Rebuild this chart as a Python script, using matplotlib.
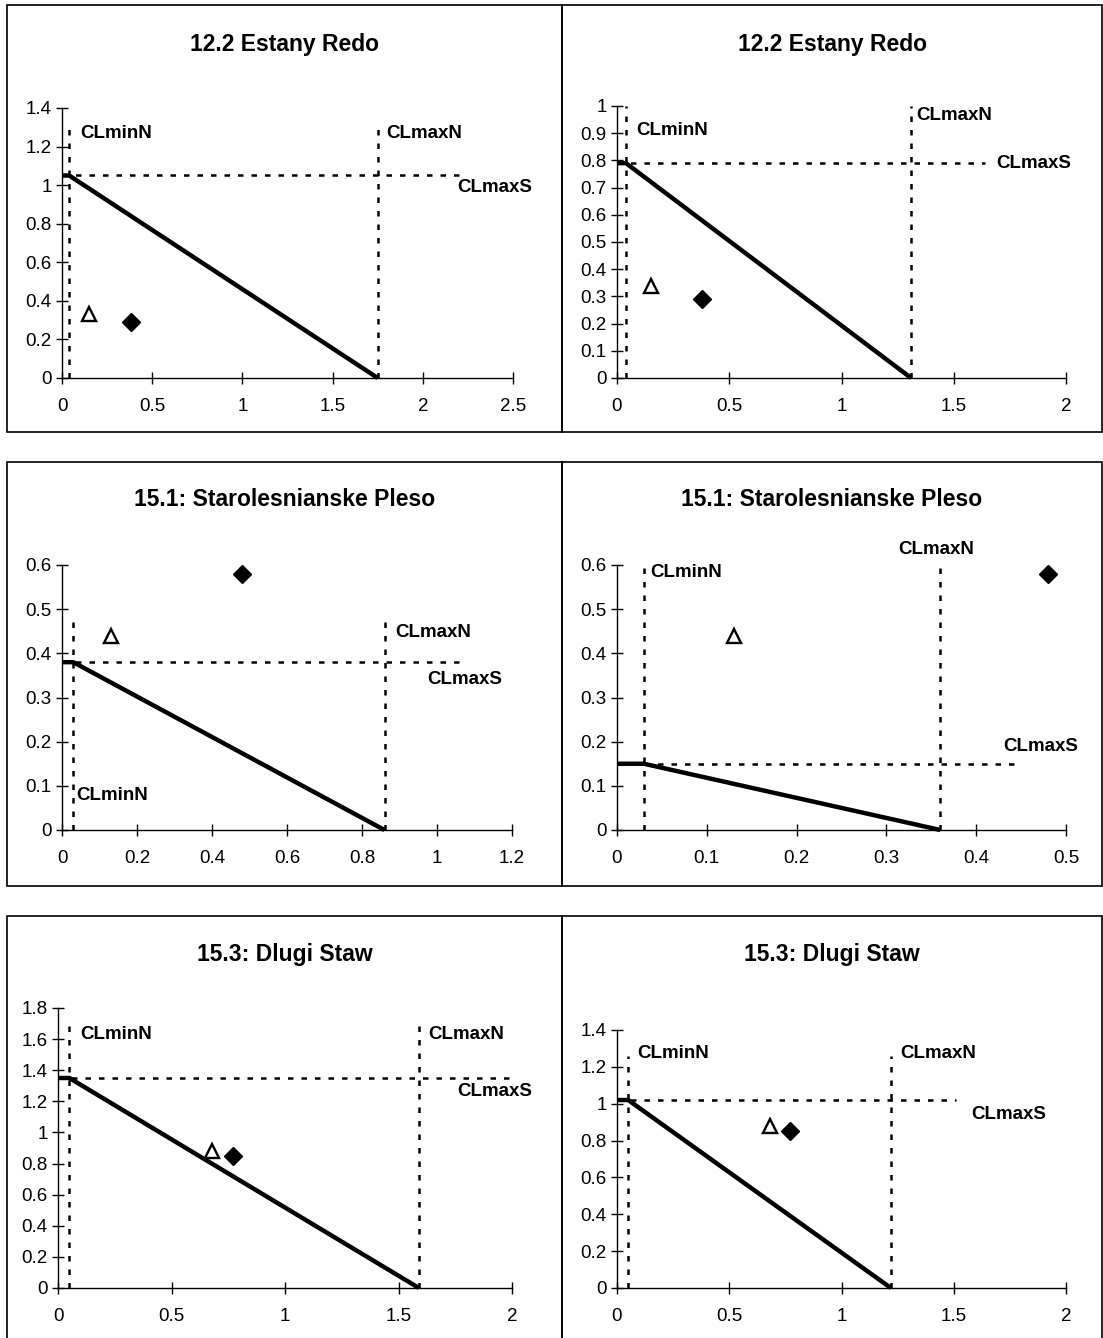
import matplotlib
matplotlib.use("Agg")
import matplotlib.pyplot as plt
from matplotlib.patches import Rectangle
from matplotlib.ticker import FormatStrFormatter, MultipleLocator

plt.rcParams["font.family"] = ["Liberation Sans", "DejaVu Sans"]

# data (left column / right column)
titles = ["12.2 Estany Redo", "12.2 Estany Redo",
          "15.1: Starolesnianske Pleso", "15.1: Starolesnianske Pleso",
          "15.3: Dlugi Staw", "15.3: Dlugi Staw"]
clmin_n = [0.04, 0.04, 0.03, 0.03, 0.05, 0.05]
clmax_n = [1.75, 1.31, 0.86, 0.36, 1.59, 1.22]
clmax_s = [1.05, 0.79, 0.38, 0.15, 1.35, 1.02]
tri_x = [0.15, 0.15, 0.13, 0.13, 0.68, 0.68]
tri_y = [0.33, 0.34, 0.44, 0.44, 0.88, 0.88]
dia_x = [0.38, 0.38, 0.48, 0.48, 0.77, 0.77]
dia_y = [0.29, 0.29, 0.58, 0.58, 0.85, 0.85]
hline_end = [2.2, 1.64, 1.06, 0.45, 2.0, 1.51]
vline_top = [1.32, 1.0, 0.48, 0.6, 1.7, 1.26]
x_max = [2.5, 2.0, 1.2, 0.5, 2.0, 2.0]
x_step = [0.5, 0.5, 0.2, 0.1, 0.5, 0.5]
y_max = [1.4, 1.0, 0.6, 0.6, 1.8, 1.4]
y_step = [0.2, 0.1, 0.1, 0.1, 0.2, 0.2]

W, H = 1103, 1338

# layout (pixels): axes box left, right, top, bottom
axes_px = [(62, 513, 108, 378), (617, 1066, 106, 378),
           (62, 512, 565, 830), (617, 1066, 565, 830),
           (58, 512, 1008, 1288), (617, 1066, 1030, 1288)]
boxes_px = [(7, 562, 5, 432), (562, 1102, 5, 432),
            (7, 562, 462, 886), (562, 1102, 462, 886),
            (7, 562, 916, 1350), (562, 1102, 916, 1350)]
title_y = [45, 45, 500, 500, 955, 955]
# label positions in data coords: (CLminN, CLmaxN, CLmaxS)
label_pos = [
    [(0.1, 1.27), (1.80, 1.27), (2.19, 0.99)],
    [(0.085, 0.91), (1.335, 0.965), (1.69, 0.79)],
    [(0.039, 0.077), (0.888, 0.448), (0.975, 0.341)],
    [(0.037, 0.584), (0.313, 0.634), (0.43, 0.19)],
    [(0.10, 1.63), (1.63, 1.63), (1.76, 1.26)],
    [(0.092, 1.27), (1.26, 1.27), (1.58, 0.94)],
]

fig = plt.figure(figsize=(W / 100, H / 100), dpi=100)

for i in range(6):
    bl, br, bt, bb = boxes_px[i]
    fig.add_artist(Rectangle((bl / W, 1 - bb / H), (br - bl) / W, (bb - bt) / H,
                             transform=fig.transFigure, fill=False,
                             edgecolor="black", linewidth=1.2))
    fig.text((bl + br) / 2 / W, 1 - title_y[i] / H, titles[i],
             ha="center", va="center", fontsize=16.5, fontweight="bold")

    l, r, t, b = axes_px[i]
    ax = fig.add_axes([l / W, 1 - b / H, (r - l) / W, (b - t) / H])
    ax.set_xlim(0, x_max[i])
    ax.set_ylim(0, y_max[i])
    ax.xaxis.set_major_locator(MultipleLocator(x_step[i]))
    ax.yaxis.set_major_locator(MultipleLocator(y_step[i]))
    ax.xaxis.set_major_formatter(FormatStrFormatter("%g"))
    ax.yaxis.set_major_formatter(FormatStrFormatter("%g"))
    for s in ["top", "right"]:
        ax.spines[s].set_visible(False)
    for s in ["left", "bottom"]:
        ax.spines[s].set_linewidth(1.0)
    ax.tick_params(direction="inout", length=9, width=1.0, labelsize=13.5)
    ax.tick_params(axis="x", pad=10)
    ax.tick_params(axis="y", pad=3)

    dots = (0, (2.2, 3.2))
    ax.plot([0, hline_end[i]], [clmax_s[i], clmax_s[i]], color="black",
            linestyle=dots, linewidth=1.8, clip_on=False)
    ax.plot([clmin_n[i], clmin_n[i]], [0, vline_top[i]], color="black",
            linestyle=dots, linewidth=1.8, clip_on=False)
    ax.plot([clmax_n[i], clmax_n[i]], [0, vline_top[i]], color="black",
            linestyle=dots, linewidth=1.8, clip_on=False)

    ax.plot([0, clmin_n[i], clmax_n[i]], [clmax_s[i], clmax_s[i], 0],
            color="black", linewidth=3.2, solid_capstyle="butt", clip_on=False)

    ax.plot(tri_x[i], tri_y[i], marker="^", markersize=10.5, markerfacecolor="white",
            markeredgecolor="black", markeredgewidth=1.7, linestyle="none")
    ax.plot(dia_x[i], dia_y[i], marker="D", markersize=9, color="black",
            linestyle="none")

    names = ["CLminN", "CLmaxN", "CLmaxS"]
    for name, (lx, ly) in zip(names, label_pos[i]):
        ax.text(lx, ly, name, fontsize=13.5, fontweight="bold", ha="left",
                va="center", clip_on=False)

fig.savefig("out.png", dpi=100)
